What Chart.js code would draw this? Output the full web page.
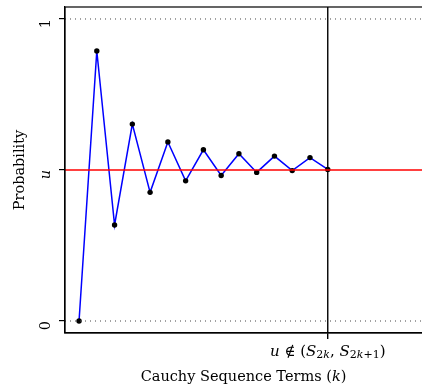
<!DOCTYPE html>
<html>
<head>
<meta charset="utf-8">
<script src="https://cdn.jsdelivr.net/npm/chart.js@4"></script>
<style>
  html, body { margin: 0; padding: 0; background: #fff; overflow: hidden; }
  #wrap { width: 430px; height: 391px; }
</style>
</head>
<body>
<div id="wrap"><canvas id="cauchyChart" width="430" height="391"></canvas></div>
<script>
const terms = [1, 2, 3, 4, 5, 6, 7, 8, 9, 10, 11, 12, 13, 14, 15];
const probs = [0, 0.894, 0.318, 0.652, 0.426, 0.593, 0.464, 0.567, 0.482, 0.554, 0.492, 0.546, 0.498, 0.541, 0.502];
const uLevel = 0.5;
const yTickValues = [0, 0.5, 1];
const yTickLabels = ['0', 'u', '1'];
const cutoffTerm = 15;
const xMin = 0.21, xMax = 20.53;

const serif = '"DejaVu Serif", "Liberation Serif", serif';

const seriesPoints = terms.map((k, i) => ({ x: k, y: probs[i] }));

// write a run of text pieces (some italic / subscript), centred on cx
function drawRich(ctx, parts, cx, y) {
    let total = 0;
    parts.forEach(p => {
        ctx.font = (p.it ? 'italic ' : '') + p.s + 'px ' + serif;
        p.w = ctx.measureText(p.t).width;
        total += p.w;
    });
    let x = cx - total / 2;
    parts.forEach(p => {
        ctx.font = (p.it ? 'italic ' : '') + p.s + 'px ' + serif;
        ctx.fillText(p.t, x, y + (p.dy || 0));
        x += p.w;
    });
}

const extrasPlugin = {
    id: 'extras',
    afterDatasetsDraw(chart) {
        const a = chart.chartArea;
        const ctx = chart.ctx;
        ctx.save();
        ctx.strokeStyle = '#000';
        ctx.lineWidth = 1.2;
        ctx.strokeRect(a.left, a.top, a.right - a.left, a.bottom - a.top);
        ctx.restore();
    },
    afterDraw(chart) {
        const ctx = chart.ctx;
        const xs = chart.scales.x;
        const cx = xs.getPixelForValue(cutoffTerm);
        const big = 15, small = 11;
        ctx.save();
        ctx.fillStyle = '#000';
        ctx.textBaseline = 'middle';
        ctx.textAlign = 'left';
        drawRich(ctx, [
            { t: 'u', it: true, s: big },
            { t: ' \u2209 (', s: big },
            { t: 'S', it: true, s: big },
            { t: '2', s: small, dy: 3 },
            { t: 'k', it: true, s: small, dy: 3 },
            { t: ', ', s: big },
            { t: 'S', it: true, s: big },
            { t: '2', s: small, dy: 3 },
            { t: 'k', it: true, s: small, dy: 3 },
            { t: '+1', s: small, dy: 3 },
            { t: ')', s: big }
        ], cx, 352);
        const mid = (chart.chartArea.left + 422) / 2;
        drawRich(ctx, [
            { t: 'Cauchy Sequence Terms (', s: 14.5 },
            { t: 'k', it: true, s: 14.5 },
            { t: ')', s: 14.5 }
        ], mid, 377);
        ctx.restore();
    }
};

const ctx = document.getElementById('cauchyChart').getContext('2d');
const cauchyChart = new Chart(ctx, {
    type: 'scatter',
    data: {
        datasets: [
            {
                data: [{ x: xMin, y: 1 }, { x: xMax, y: 1 }],
                showLine: true,
                borderColor: '#444',
                borderWidth: 1,
                borderDash: [1, 4],
                pointRadius: 0
            },
            {
                data: [{ x: xMin, y: 0 }, { x: xMax, y: 0 }],
                showLine: true,
                borderColor: '#444',
                borderWidth: 1,
                borderDash: [1, 4],
                pointRadius: 0
            },
            {
                data: [{ x: xMin, y: uLevel }, { x: xMax, y: uLevel }],
                showLine: true,
                borderColor: '#ff0000',
                borderWidth: 1.5,
                pointRadius: 0
            },
            {
                data: seriesPoints,
                showLine: true,
                borderColor: '#0000ff',
                borderWidth: 1.5,
                pointRadius: 2.7,
                pointBackgroundColor: '#000',
                pointBorderColor: '#000',
                pointBorderWidth: 0
            },
            {
                data: [{ x: cutoffTerm, y: -0.04 }, { x: cutoffTerm, y: 1.04 }],
                showLine: true,
                borderColor: '#000',
                borderWidth: 1.4,
                pointRadius: 0
            }
        ]
    },
    options: {
        responsive: false,
        animation: false,
        layout: { padding: { top: 7, right: 2, left: 0, bottom: 0 } },
        plugins: {
            legend: { display: false },
            tooltip: { enabled: false }
        },
        scales: {
            x: {
                type: 'linear',
                min: xMin,
                max: xMax,
                afterBuildTicks: scale => { scale.ticks = [{ value: cutoffTerm }]; },
                afterFit: scale => { scale.height = 58; scale.paddingLeft = 0; scale.paddingRight = 0; },
                ticks: { color: 'rgba(0,0,0,0)', font: { size: 14, family: serif } },
                grid: { drawOnChartArea: false, tickLength: 6, color: '#000', lineWidth: 1.4 },
                border: { display: true, color: '#000', width: 1.2 }
            },
            y: {
                type: 'linear',
                min: -0.0397,
                max: 1.0397,
                afterBuildTicks: scale => { scale.ticks = yTickValues.map(v => ({ value: v })); },
                afterFit: scale => { scale.width = 65; scale.paddingTop = 0; scale.paddingBottom = 0; },
                ticks: {
                    color: '#000',
                    minRotation: 90,
                    maxRotation: 90,
                    padding: 13,
                    font: c => ({
                        size: 14.5,
                        family: serif,
                        style: c.tick && c.tick.value === uLevel ? 'italic' : 'normal'
                    }),
                    callback: v => yTickLabels[yTickValues.indexOf(v)]
                },
                grid: { drawOnChartArea: false, tickLength: 6, color: '#000', lineWidth: 1.2 },
                border: { display: true, color: '#000', width: 1.2 },
                title: {
                    display: true,
                    text: 'Probability',
                    color: '#000',
                    font: { size: 14.5, family: serif },
                    padding: { top: 12, bottom: 0 }
                }
            }
        }
    },
    plugins: [extrasPlugin]
});
</script>
</body>
</html>
